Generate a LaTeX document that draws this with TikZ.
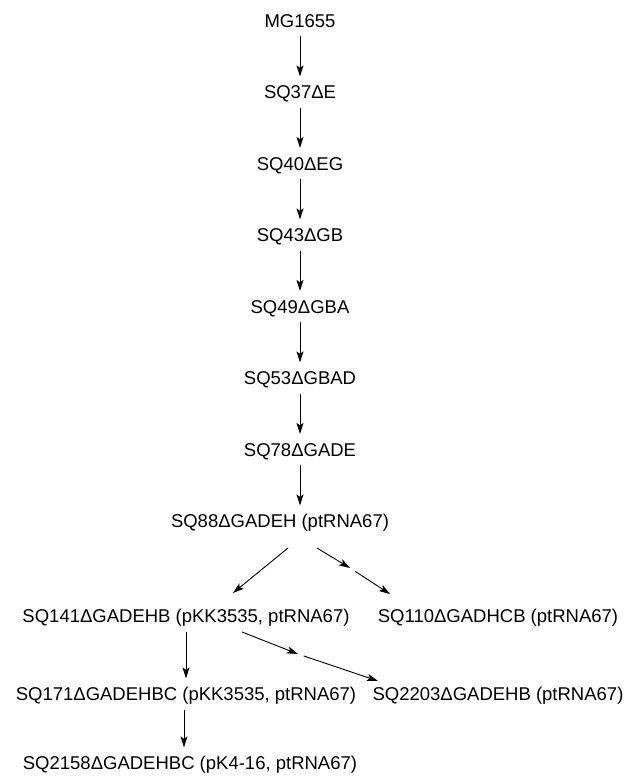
\documentclass[tikz,border=0pt]{standalone}
\usepackage{fontspec}
\setmainfont{Liberation Sans}
\usepackage{tikz}
\usetikzlibrary{arrows.meta,positioning}

\begin{document}
\begin{tikzpicture}[
    x=1pt, y=-1pt,
    node distance=71.5pt, on grid,
    strain/.style={inner sep=0pt, outer sep=9pt, text height=13.2pt, text depth=0pt, font=\fontsize{18.5}{22}\selectfont},
    arrow/.style={-{Stealth[length=11pt, width=7pt, inset=2.5pt]}, line width=0.9pt},
]
    \useasboundingbox (0,0) rectangle (629,776);

    \node[strain] (mg) at (300,20.5) {MG1655};
    \node[strain, below=of mg] (sq37) {SQ37ΔE};
    \node[strain, below=of sq37] (sq40) {SQ40ΔEG};
    \node[strain, below=of sq40] (sq43) {SQ43ΔGB};
    \node[strain, below=of sq43] (sq49) {SQ49ΔGBA};
    \node[strain, below=of sq49] (sq53) {SQ53ΔGBAD};
    \node[strain, below=of sq53] (sq78) {SQ78ΔGADE};
    \node[strain, below=of sq78, xshift=-20pt] (sq88) {SQ88ΔGADEH (ptRNA67)};
    \node[strain, below=95pt of sq88, xshift=-94pt] (sq141) {SQ141ΔGADEHB (pKK3535, ptRNA67)};
    \node[strain, right=312pt of sq141] (sq110) {SQ110ΔGADHCB (ptRNA67)};
    \node[strain, below=78pt of sq141] (sq171) {SQ171ΔGADEHBC (pKK3535, ptRNA67)};
    \node[strain, right=312pt of sq171] (sq2203) {SQ2203ΔGADEHB (ptRNA67)};
    \node[strain, below=69pt of sq171, xshift=4pt] (sq2158) {SQ2158ΔGADEHBC (pK4-16, ptRNA67)};

    % bends of the long edges
    \coordinate (m1) at (350,568);
    \coordinate (m2) at (298,654);

    \draw[arrow] (mg) -- (sq37);
    \draw[arrow] (sq37) -- (sq40);
    \draw[arrow] (sq40) -- (sq43);
    \draw[arrow] (sq43) -- (sq49);
    \draw[arrow] (sq49) -- (sq53);
    \draw[arrow] (sq53) -- (sq78);
    \draw[arrow] (sq78) -- (sq78 |- sq88.north);
    \draw[arrow] ([shift={(8,27)}]sq88.center) -- ([shift={(47,-23)}]sq141.center);
    \draw[arrow] ([shift={(37,27)}]sq88.center) -- (m1);
    \draw[arrow, shorten <=6pt] (m1) -- ([shift={(-108,-22)}]sq110.center);
    \draw[arrow] (sq141.south -| sq171) -- (sq171);
    \draw[arrow] ([shift={(56,16)}]sq141.center) -- (m2);
    \draw[arrow, shorten <=6pt] (m2) -- ([shift={(-120,-13)}]sq2203.center);
    \draw[arrow] ([xshift=-2pt]sq171.south) -- ([xshift=-2pt]sq171.south |- sq2158.north);
\end{tikzpicture}
\end{document}
